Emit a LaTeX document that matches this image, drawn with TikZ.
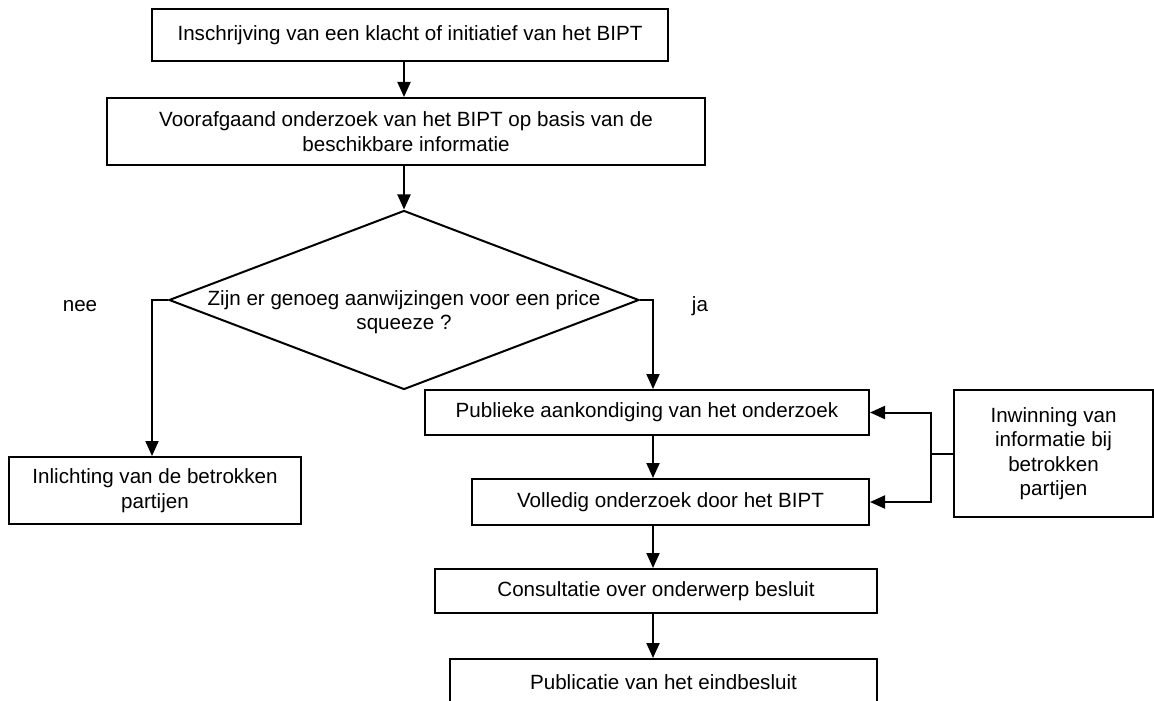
\documentclass[tikz,border=0pt]{standalone}
\usepackage{fontspec}
\setmainfont{Liberation Sans}
\usetikzlibrary{arrows.meta,calc,shapes.geometric}
\tikzset{
    >={Triangle[length=7.5pt,width=6.5pt]},
    flow/.style={
        x=0.5pt,y=-0.5pt,line width=1pt,
        box/.append style={align=center,draw,rectangle,inner sep=0pt,font=\fontsize{10.3}{12.2}\selectfont},
        choice/.append style={draw,diamond,inner sep=0pt,minimum width=235pt,minimum height=89.5pt},
        lbl/.append style={align=center,inner sep=0pt,font=\fontsize{10.3}{12.2}\selectfont},
        every edge/.append style={draw,->}
    }
}

\begin{document}
\begin{tikzpicture}[flow]
    \useasboundingbox (0,0) rectangle (1154,700);
    \node[box,minimum width=258pt,minimum height=26pt] (i) at (410,35) {Inschrijving van een klacht of initiatief van het BIPT};
    \node[box,minimum width=299pt,minimum height=33.5pt] (v) at (406,131.5) {Voorafgaand onderzoek van het BIPT op basis van de\\beschikbare informatie};
    \node[choice] (z) at (404,300) {};
    \node[lbl] (q) at (404,312) {Zijn er genoeg aanwijzingen voor een price\\squeeze ?};
    \node[lbl,anchor=base] (nee) at (80,311) {nee};
    \node[lbl,anchor=base] (ja) at (700,311) {ja};

        \node[box,minimum width=146pt,minimum height=33.5pt] (n) at (155,490.5) {Inlichting van de betrokken\\partijen};
        \node[box,minimum width=222pt,minimum height=22.5pt] (p) at (647,412.5) {Publieke aankondiging van het onderzoek};
        \node[box,minimum width=198.5pt,minimum height=23pt] (o) at (670.5,502) {Volledig onderzoek door het BIPT};
        \node[box,minimum width=221pt,minimum height=22pt] (c) at (656,591) {Consultatie over onderwerp besluit};
        \node[box,minimum width=213.5pt,minimum height=23pt] (e) at (663.5,682) {Publicatie van het eindbesluit};
        \node[box,minimum width=99.5pt,minimum height=63.5pt] (w) at (1053.5,453.5) {Inwinning van\\informatie bij\\betrokken\\partijen};

    \path (i.south -| z) edge (v.north -| z);
    \path (v.south -| z) edge (z.north);
    \draw[->] (z.west) -| ([xshift=-1.5pt]n.north);
    \coordinate (k) at (653,0);
    \draw[->] (z.east) -| (p.north -| k);
    \path (p.south -| k) edge (o.north -| k)
          (o.south -| k) edge (c.north -| k)
          (c.south -| k) edge (e.north -| k);
    \coordinate (s) at ($(w.west)+(-22,0)$);
    \draw (w.west) -- (s);
    \draw[->] (s) |- (p.east);
    \draw[->] (s) |- (o.east);
\end{tikzpicture}
\end{document}
